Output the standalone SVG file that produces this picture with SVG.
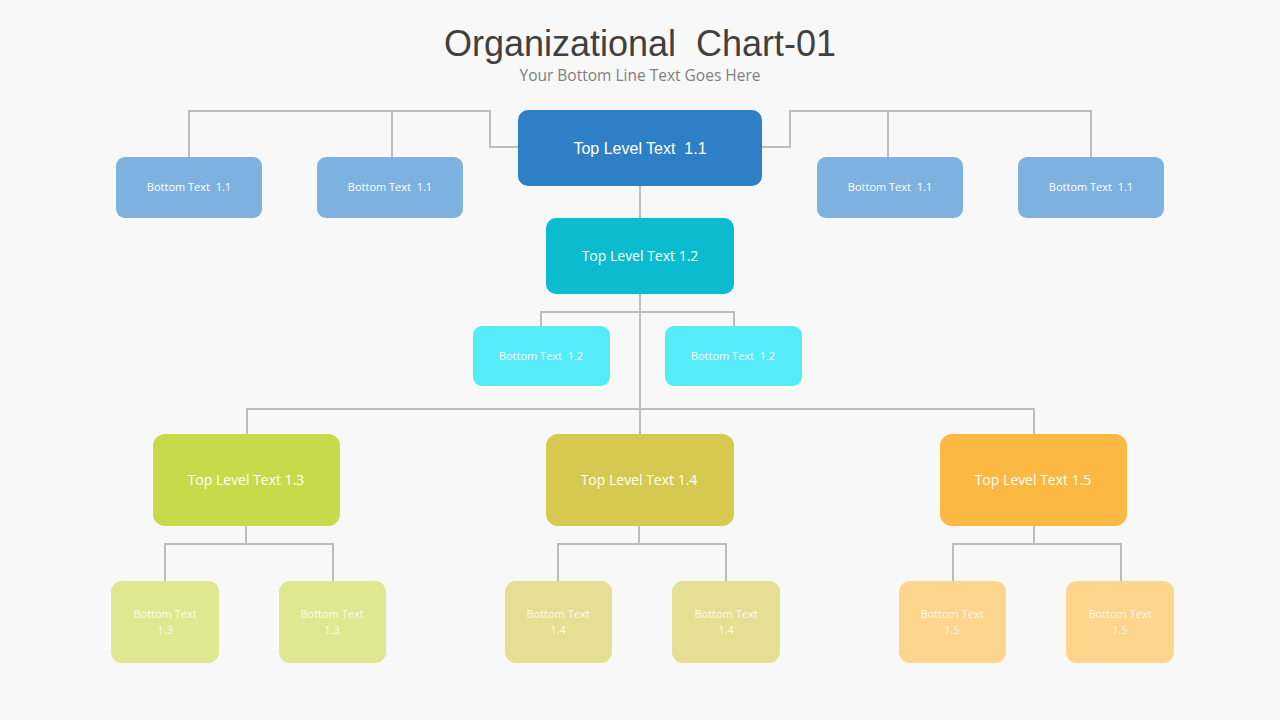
<svg xmlns="http://www.w3.org/2000/svg" width="1280" height="720" viewBox="0 0 1280 720">
<style>
text{white-space:pre}
.ln{fill:none;stroke:#bdbdbd;stroke-width:2}
.t{fill:#fff;text-anchor:middle;font-family:"Open Sans","Liberation Sans",sans-serif}
.top{font-size:14px}
.bt{font-size:11px}
.sm{font-size:11px;fill:#fff;fill-opacity:0.85}
</style>
<rect width="1280" height="720" fill="#f8f8f8"/>
<text x="640" y="56" text-anchor="middle" font-family="Liberation Sans, Arial, sans-serif" font-size="36" fill="#404040" xml:space="preserve">Organizational  Chart-01</text>
<text x="640" y="81" text-anchor="middle" font-family="Open Sans, Liberation Sans, sans-serif" font-size="15.5" fill="#7f7f7f">Your Bottom Line Text Goes Here</text>
<g id="connectors">
<path class="ln" d="M189 157V111H490V147H518M392 111V157"/>
<path class="ln" d="M762 147H790V111H1091V157M888 111V157"/>
<path class="ln" d="M640 186V218M640 294V434M541 326V312H734V326M247 434V409H1034V434"/>
<path class="ln" d="M246 526V544M165 581V544H333V581"/>
<path class="ln" d="M639 526V544M558 581V544H726V581"/>
<path class="ln" d="M1034 526V544M953 581V544H1121V581"/>
</g>
<g id="top11"><rect x="518" y="110" width="244" height="76" rx="10" fill="#2e7fc6"/><text x="640" y="154" text-anchor="middle" fill="#fff" font-family="Liberation Sans, sans-serif" font-size="16" xml:space="preserve">Top Level Text  1.1</text></g>
<g id="b11a"><rect x="116" y="157" width="146" height="61" rx="9" fill="#7db2e0"/><text class="t bt" x="189" y="191" xml:space="preserve">Bottom Text  1.1</text></g>
<g id="b11b"><rect x="317" y="157" width="146" height="61" rx="9" fill="#7db2e0"/><text class="t bt" x="390" y="191" xml:space="preserve">Bottom Text  1.1</text></g>
<g id="b11c"><rect x="817" y="157" width="146" height="61" rx="9" fill="#7db2e0"/><text class="t bt" x="890" y="191" xml:space="preserve">Bottom Text  1.1</text></g>
<g id="b11d"><rect x="1018" y="157" width="146" height="61" rx="9" fill="#7db2e0"/><text class="t bt" x="1091" y="191" xml:space="preserve">Bottom Text  1.1</text></g>
<g id="top12"><rect x="546" y="218" width="188" height="76" rx="10" fill="#0abccd"/><text class="t top" x="640" y="261">Top Level Text 1.2</text></g>
<g id="b12a"><rect x="473" y="326" width="137" height="60" rx="9" fill="#55ebf8"/><text class="t bt" x="541" y="360" xml:space="preserve">Bottom Text  1.2</text></g>
<g id="b12b"><rect x="665" y="326" width="137" height="60" rx="9" fill="#55ebf8"/><text class="t bt" x="733" y="360" xml:space="preserve">Bottom Text  1.2</text></g>
<g id="top13"><rect x="153" y="434" width="187" height="92" rx="12" fill="#c8da4a"/><text class="t top" x="246" y="485">Top Level Text 1.3</text></g>
<g id="top14"><rect x="546" y="434" width="188" height="92" rx="12" fill="#d5c94f"/><text class="t top" x="639" y="485">Top Level Text 1.4</text></g>
<g id="top15"><rect x="940" y="434" width="187" height="92" rx="12" fill="#fbb842"/><text class="t top" x="1033" y="485">Top Level Text 1.5</text></g>
<g id="b13a"><rect x="111" y="581" width="108" height="82" rx="11" fill="#dfe891"/><text class="t sm" x="165" y="618">Bottom Text</text><text class="t sm" x="165" y="634">1.3</text></g>
<g id="b13b"><rect x="279" y="581" width="107" height="82" rx="11" fill="#dfe891"/><text class="t sm" x="332" y="618">Bottom Text</text><text class="t sm" x="332" y="634">1.3</text></g>
<g id="b14a"><rect x="505" y="581" width="107" height="82" rx="11" fill="#e5df93"/><text class="t sm" x="558" y="618">Bottom Text</text><text class="t sm" x="558" y="634">1.4</text></g>
<g id="b14b"><rect x="672" y="581" width="108" height="82" rx="11" fill="#e5df93"/><text class="t sm" x="726" y="618">Bottom Text</text><text class="t sm" x="726" y="634">1.4</text></g>
<g id="b15a"><rect x="899" y="581" width="107" height="82" rx="11" fill="#fdd58c"/><text class="t sm" x="952" y="618">Bottom Text</text><text class="t sm" x="952" y="634">1.5</text></g>
<g id="b15b"><rect x="1066" y="581" width="108" height="82" rx="11" fill="#fdd58c"/><text class="t sm" x="1120" y="618">Bottom Text</text><text class="t sm" x="1120" y="634">1.5</text></g>
</svg>
